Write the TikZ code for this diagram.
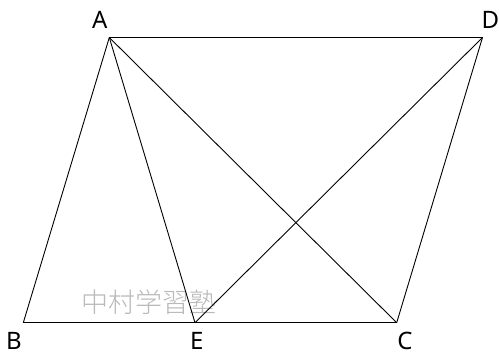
\documentclass[tikz,border=0pt]{standalone}
\usepackage{fontspec}
\setmainfont{Noto Sans}
\newfontfamily\cjk{Noto Sans CJK JP Light}
\usetikzlibrary{positioning}

\begin{document}
\begin{tikzpicture}[x=1pt,y=-1pt,
 every node/.style={font=\fontsize{24}{28}\selectfont},
 edge/.style={draw,line width=.9pt},
 wmark/.style={gray!55,font=\cjk\fontsize{27}{30}\selectfont}]
\useasboundingbox (0,0) rectangle (499,359);
\coordinate (A) at (109.3,37.5);
\coordinate (D) at (482.5,37.5);
\coordinate (B) at (23.3,322.7);
\coordinate (C) at (396.7,322.7);
\coordinate (E) at (195,322.7);
\node[wmark] (wm) at (149,302) {中村学習塾};
\foreach \p/\q in {A/D,D/C,C/B,B/A,A/E,A/C,E/D}
  {\draw[edge] (\p)--(\q);}
\node (lA) at (99.7,19.5) {A};
\node (lD) at (490.5,19.5) {D};
\node (lB) at (14,341) {B};
\node (lE) at (196.7,341) {E};
\node (lC) at (405,341) {C};
\end{tikzpicture}
\end{document}
